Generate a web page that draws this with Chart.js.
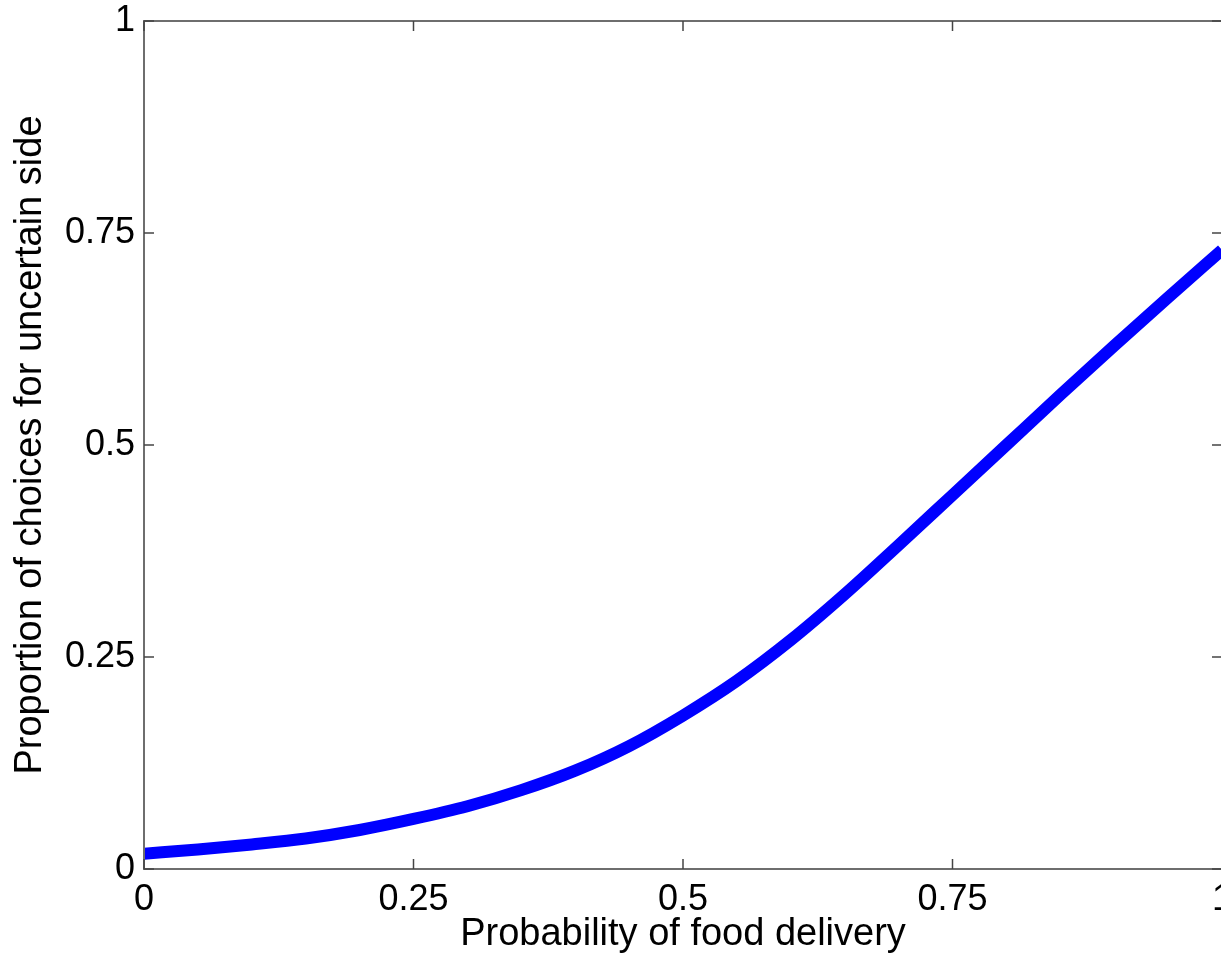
<!DOCTYPE html>
<html>
<head>
<meta charset="utf-8">
<script src="https://cdn.jsdelivr.net/npm/chart.js@4/dist/chart.umd.min.js"></script>
<style>
  html, body { margin: 0; padding: 0; background: #ffffff; overflow: hidden; }
  #wrap { width: 1260px; height: 962px; }
</style>
</head>
<body>
<div id="wrap"><canvas id="c" width="1260" height="962"></canvas></div>
<script>
// ---- data ----
const deliveryProbability = [0, 0.05, 0.10, 0.15, 0.20, 0.25, 0.30, 0.35, 0.40, 0.45, 0.50,
                             0.55, 0.60, 0.65, 0.70, 0.75, 0.80, 0.85, 0.90, 0.95, 1.00];
const uncertainChoice = [0.018, 0.023, 0.029, 0.036, 0.046, 0.059, 0.074, 0.093, 0.116, 0.145, 0.181,
                         0.222, 0.270, 0.324, 0.382, 0.441, 0.500, 0.559, 0.617, 0.674, 0.730];
const xTickValues = [0, 0.25, 0.5, 0.75, 1];
const yTickValues = [0, 0.25, 0.5, 0.75, 1];
const xTitle = 'Probability of food delivery';
const yTitle = 'Proportion of choices for uncertain side';

const points = deliveryProbability.map((v, i) => ({ x: v, y: uncertainChoice[i] }));
const FONT = "'Liberation Sans', Arial, sans-serif";

const frameTicks = {
  id: 'frameTicks',
  afterDatasetsDraw(chart) {
    const { ctx, chartArea: { left, right, top, bottom }, scales: { x, y } } = chart;
    ctx.save();
    ctx.strokeStyle = '#6e6e6e';
    ctx.lineWidth = 2;
    ctx.strokeRect(left, top, right - left, bottom - top);
    ctx.strokeStyle = '#444444';
    ctx.lineWidth = 1.5;
    const L = 10;
    const seg = (x1, y1, x2, y2) => { ctx.beginPath(); ctx.moveTo(x1, y1); ctx.lineTo(x2, y2); ctx.stroke(); };
    x.ticks.forEach(t => {
      const px = x.getPixelForValue(t.value);
      seg(px, bottom, px, bottom - L);
      seg(px, top, px, top + L);
    });
    y.ticks.forEach(t => {
      const py = y.getPixelForValue(t.value);
      seg(left, py, left + L, py);
      seg(right, py, right - L, py);
    });
    ctx.restore();
  }
};

new Chart(document.getElementById('c'), {
  type: 'line',
  data: {
    datasets: [{
      data: points,
      borderColor: '#0000ff',
      borderWidth: 12,
      pointRadius: 0,
      fill: false,
      cubicInterpolationMode: 'monotone',
      clip: 0
    }]
  },
  options: {
    responsive: false,
    animation: false,
    events: [],
    layout: { padding: { top: 21, right: 38, left: 0, bottom: 0 } },
    plugins: { legend: { display: false }, tooltip: { enabled: false } },
    scales: {
      x: {
        type: 'linear',
        min: 0, max: 1,
        afterBuildTicks: s => { s.ticks = xTickValues.map(v => ({ value: v })); },
        afterFit: s => { s.height = 93; s.paddingLeft = 0; s.paddingRight = 0; },
        grid: { display: false, drawTicks: false },
        border: { display: false },
        ticks: {
          color: '#000',
          font: { family: FONT, size: 36 },
          padding: 9,
          maxRotation: 0,
          autoSkip: false,
          callback: v => String(v)
        },
        title: {
          display: true,
          text: xTitle,
          color: '#000',
          font: { family: FONT, size: 38 },
          padding: { top: 0, bottom: 5 }
        }
      },
      y: {
        type: 'linear',
        min: 0, max: 1,
        afterBuildTicks: s => { s.ticks = yTickValues.map(v => ({ value: v })); },
        afterFit: s => { s.width = 144; s.paddingTop = 0; s.paddingBottom = 0; },
        grid: { display: false, drawTicks: false },
        border: { display: false },
        ticks: {
          color: '#000',
          font: { family: FONT, size: 36 },
          padding: 9,
          autoSkip: false,
          callback: v => String(v)
        },
        title: {
          display: true,
          text: yTitle,
          color: '#000',
          font: { family: FONT, size: 38 },
          padding: { top: 8, bottom: 0 }
        }
      }
    }
  },
  plugins: [frameTicks]
});
</script>
</body>
</html>
